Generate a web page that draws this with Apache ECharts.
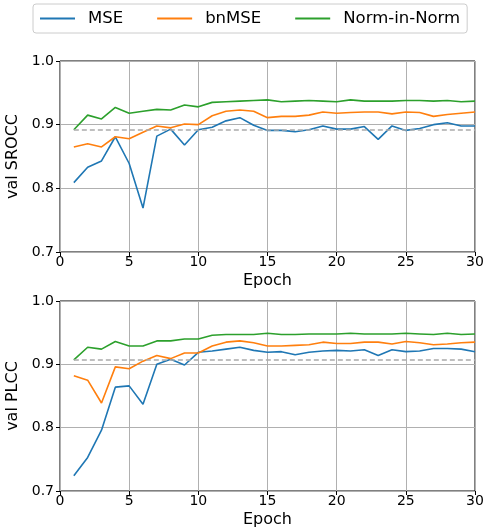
<!DOCTYPE html>
<html>
<head>
<meta charset="utf-8">
<script src="https://cdn.jsdelivr.net/npm/echarts@6/dist/echarts.min.js"></script>
<style>
html, body { margin: 0; padding: 0; background: #fff; }
#chart { width: 487px; height: 527px; }
</style>
</head>
<body>
<div id="chart"></div>
<script>
// epochs 1..30
var epochs = [1, 2, 3, 4, 5, 6, 7, 8, 9, 10, 11, 12, 13, 14, 15, 16, 17, 18, 19, 20, 21, 22, 23, 24, 25, 26, 27, 28, 29, 30];
var xTicks = [0, 5, 10, 15, 20, 25, 30];
var yTicks = [0.7, 0.8, 0.9, 1.0];

// val SROCC
var sroccMSE = [0.809, 0.833, 0.843, 0.881, 0.839, 0.769, 0.882, 0.893, 0.868, 0.892, 0.896, 0.906, 0.911, 0.899, 0.891,
    0.891, 0.889, 0.892, 0.898, 0.893, 0.893, 0.897, 0.877, 0.898, 0.891, 0.894, 0.900, 0.903, 0.898, 0.898];
var sroccBnMSE = [0.865, 0.870, 0.865, 0.881, 0.878, 0.888, 0.898, 0.895, 0.901, 0.900, 0.914, 0.921, 0.923, 0.921, 0.911,
    0.913, 0.913, 0.915, 0.920, 0.918, 0.919, 0.920, 0.920, 0.917, 0.920, 0.919, 0.913, 0.916, 0.918, 0.920];
var sroccNiN = [0.892, 0.915, 0.909, 0.927, 0.918, 0.921, 0.924, 0.923, 0.931, 0.928, 0.935, 0.936, 0.937, 0.938, 0.939,
    0.936, 0.937, 0.938, 0.937, 0.936, 0.939, 0.937, 0.937, 0.937, 0.938, 0.938, 0.937, 0.938, 0.936, 0.937];
var sroccRef = 0.892;

// val PLCC
var plccMSE = [0.724, 0.753, 0.796, 0.864, 0.866, 0.837, 0.900, 0.908, 0.899, 0.919, 0.921, 0.924, 0.927, 0.922, 0.919,
    0.920, 0.915, 0.919, 0.921, 0.922, 0.921, 0.923, 0.914, 0.923, 0.920, 0.921, 0.925, 0.925, 0.924, 0.920];
var plccBnMSE = [0.882, 0.875, 0.839, 0.896, 0.893, 0.905, 0.914, 0.909, 0.918, 0.918, 0.929, 0.935, 0.937, 0.934, 0.929,
    0.929, 0.930, 0.931, 0.935, 0.933, 0.933, 0.935, 0.935, 0.932, 0.936, 0.934, 0.931, 0.932, 0.934, 0.935];
var plccNiN = [0.907, 0.927, 0.924, 0.936, 0.929, 0.929, 0.937, 0.937, 0.940, 0.940, 0.946, 0.947, 0.947, 0.947, 0.949,
    0.947, 0.947, 0.948, 0.948, 0.948, 0.949, 0.948, 0.948, 0.948, 0.949, 0.948, 0.947, 0.949, 0.947, 0.948];
var plccRef = 0.908;

var colors = ['#1f77b4', '#ff7f0e', '#2ca02c'];
var font = 'DejaVu Sans';

function pairs(vals) {
    return epochs.map(function (e, i) { return [e, vals[i]]; });
}

function xAxis(idx) {
    return {
        type: 'value', gridIndex: idx, min: 0, max: 30, interval: 5,
        name: 'Epoch', nameLocation: 'middle', nameGap: 21,
        nameTextStyle: { fontFamily: font, fontSize: 16, color: '#000' },
        axisLine: { show: false },
        axisTick: { show: true, length: 4, lineStyle: { color: '#000' } },
        axisLabel: {
            fontFamily: font, fontSize: 14, color: '#000', margin: 3,
            formatter: function (v) { return xTicks.indexOf(v) >= 0 ? String(v) : ''; }
        },
        splitLine: { show: true, lineStyle: { color: '#b0b0b0', width: 1 } }
    };
}

function yAxis(idx, name) {
    return {
        type: 'value', gridIndex: idx, min: 0.7, max: 1.0, interval: 0.1,
        name: name, nameLocation: 'middle', nameGap: 30, nameRotate: 90,
        nameTextStyle: { fontFamily: font, fontSize: 16, color: '#000' },
        axisLine: { show: false },
        axisTick: { show: true, length: 4, lineStyle: { color: '#000' } },
        axisLabel: {
            fontFamily: font, fontSize: 14, color: '#000', margin: 6,
            formatter: function (v) {
                var t = yTicks.filter(function (y) { return Math.abs(y - v) < 1e-6; });
                return t.length ? t[0].toFixed(1) : '';
            }
        },
        splitLine: { show: true, lineStyle: { color: '#b0b0b0', width: 1 } }
    };
}

function line(name, vals, color, idx, ref) {
    var s = {
        name: name, type: 'line', xAxisIndex: idx, yAxisIndex: idx,
        data: pairs(vals), showSymbol: false, symbol: 'none',
        lineStyle: { color: color, width: 1.6 }, itemStyle: { color: color },
        z: 3, animation: false
    };
    if (ref !== undefined) {
        // dashed reference line across the epochs
        s.markLine = {
            silent: true, symbol: 'none', label: { show: false },
            lineStyle: { color: '#aaaaaa', type: [5, 3], width: 1.5 },
            data: [[{ coord: [epochs[0], ref] }, { coord: [epochs[epochs.length - 1], ref] }]]
        };
    }
    return s;
}

var chart = echarts.init(document.getElementById('chart'), null, { renderer: 'canvas' });
chart.setOption({
    backgroundColor: '#fff',
    animation: false,
    legend: {
        left: 33, top: 4,
        padding: [6, 7, 6, 7],
        borderColor: '#cccccc', borderWidth: 1, borderRadius: 3,
        itemWidth: 35, itemHeight: 2, itemGap: 34,
        icon: 'rect',
        textStyle: { fontFamily: font, fontSize: 16.5, color: '#000', padding: [0, 0, 0, 8] },
        data: ['MSE', 'bnMSE', 'Norm-in-Norm']
    },
    grid: [
        { left: 60, top: 61, width: 415, height: 191, outerBoundsMode: 'none', show: true, borderColor: '#000', borderWidth: 1, backgroundColor: 'transparent' },
        { left: 60, top: 301, width: 415, height: 190, outerBoundsMode: 'none', show: true, borderColor: '#000', borderWidth: 1, backgroundColor: 'transparent' }
    ],
    xAxis: [xAxis(0), xAxis(1)],
    yAxis: [yAxis(0, 'val SROCC'), yAxis(1, 'val PLCC')],
    series: [
        line('MSE', sroccMSE, colors[0], 0, sroccRef),
        line('bnMSE', sroccBnMSE, colors[1], 0),
        line('Norm-in-Norm', sroccNiN, colors[2], 0),
        line('MSE', plccMSE, colors[0], 1, plccRef),
        line('bnMSE', plccBnMSE, colors[1], 1),
        line('Norm-in-Norm', plccNiN, colors[2], 1)
    ]
});
</script>
</body>
</html>
